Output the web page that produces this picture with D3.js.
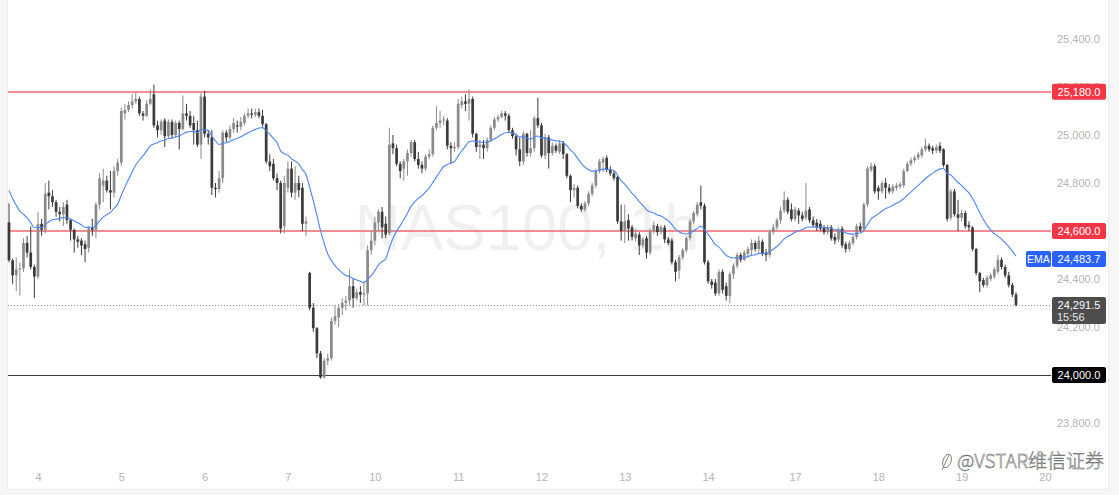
<!DOCTYPE html>
<html><head><meta charset="utf-8">
<script src="https://cdn.jsdelivr.net/npm/d3@7"></script>
<style>
html,body{margin:0;padding:0;background:#f6f6f6;}
svg{display:block;font-family:"Liberation Sans",Arial,sans-serif;}
</style></head><body>
<svg id="chart" width="1119" height="495"></svg>
<script>
// ---- DATA (NAS100, 1h) ----
const opens = [
24636,24478,24415,24440,24445,24550,24510,24450,24410,24630,
24605,24760,24745,24720,24680,24670,24710,24645,24605,24565,
24560,24545,24530,24615,24605,24710,24790,24810,24770,24760,
24850,24885,25090,25105,25125,25140,25150,25090,25080,25130,
25170,25040,25020,25060,24995,25055,25000,25050,25025,25090,
25080,25050,25020,24960,25160,25005,24990,24780,24775,24820,
25010,24990,25025,25040,25035,25050,25080,25090,25085,25095,
25080,25045,24890,24880,24820,24800,24620,24780,24860,24760,
24800,24780,24630,24425,24280,24195,24090,23990,24060,24070,
24225,24240,24280,24300,24310,24370,24320,24345,24335,24340,
24520,24560,24635,24680,24630,24590,24965,24945,24880,24860,
24890,24925,24970,24900,24875,24860,24910,24920,25030,25050,
25060,25060,24955,24945,24950,25125,25140,25130,25150,25005,
24950,24960,24945,24980,25030,25065,25075,25090,25080,25020,
24995,24940,24890,25005,24925,24945,25070,25040,24915,24990,
24925,24955,24930,24965,24920,24830,24770,24780,24705,24690,
24715,24755,24790,24850,24885,24905,24855,24840,24825,24640,
24600,24645,24615,24570,24585,24540,24570,24510,24600,24620,
24595,24615,24565,24560,24470,24435,24490,24520,24570,24640,
24670,24720,24705,24470,24390,24385,24340,24430,24370,24330,
24420,24455,24500,24480,24505,24520,24550,24525,24555,24510,
24500,24595,24615,24645,24685,24730,24690,24650,24685,24665,
24655,24690,24645,24635,24630,24615,24595,24615,24575,24565,
24610,24545,24525,24550,24575,24620,24610,24710,24855,24870,
24780,24765,24800,24780,24765,24780,24785,24790,24850,24880,
24895,24905,24915,24940,24955,24945,24935,24955,24940,24875,
24655,24765,24670,24655,24675,24625,24615,24525,24425,24395,
24375,24400,24410,24430,24480,24450,24415,24375,24335];
const highs = [
24715,24485,24490,24470,24570,24580,24620,24460,24680,24650,
24800,24810,24770,24730,24700,24720,24730,24650,24610,24580,
24570,24560,24620,24650,24720,24840,24860,24830,24850,24870,
24900,25115,25130,25140,25170,25175,25160,25100,25145,25190,
25210,25060,25065,25070,25065,25065,25060,25060,25165,25130,
25100,25080,25060,25175,25185,25020,25020,24800,24850,25020,
25020,25040,25070,25060,25075,25090,25110,25110,25110,25110,
25105,25050,24920,24900,24840,24810,24830,24890,24890,24870,
24830,24800,24660,24430,24300,24200,24100,24070,24090,24240,
24290,24295,24320,24330,24440,24400,24360,24370,24390,24540,
24600,24660,24690,24700,24660,25030,25000,24960,24890,24900,
24940,24980,24980,24930,24890,24920,24940,25040,25120,25100,
25080,25070,24970,24970,25150,25160,25170,25190,25160,25010,
24980,24980,24990,25040,25075,25085,25100,25100,25090,25030,
25005,24990,25015,25010,25020,25080,25155,25050,25005,25000,
24970,24965,24980,24975,24925,24835,24795,24790,24715,24725,
24765,24800,24860,24900,24910,24915,24870,24850,24830,24710,
24710,24670,24625,24610,24595,24575,24580,24610,24640,24630,
24625,24625,24575,24570,24480,24500,24530,24580,24650,24685,
24720,24790,24715,24480,24400,24400,24440,24440,24385,24430,
24465,24510,24510,24520,24535,24565,24560,24580,24565,24525,
24605,24630,24655,24700,24765,24740,24715,24700,24695,24680,
24800,24700,24660,24650,24645,24625,24625,24625,24590,24615,
24620,24555,24560,24585,24630,24635,24720,24870,24885,24880,
24790,24810,24820,24795,24795,24800,24805,24860,24890,24905,
24915,24930,24950,24985,24965,24955,24960,24970,24945,24880,
24775,24775,24730,24690,24685,24640,24620,24530,24430,24405,
24415,24425,24450,24500,24490,24460,24430,24385,24345];
const lows = [
24470,24380,24350,24330,24430,24490,24440,24320,24400,24580,
24590,24690,24700,24660,24640,24620,24630,24560,24510,24530,
24500,24470,24510,24580,24570,24690,24720,24760,24690,24740,
24830,24870,25065,25095,25110,25130,25080,25060,25075,25125,
25030,24990,25000,24950,24985,24985,24990,24940,25020,25060,
25030,24960,24950,24900,24990,24960,24750,24740,24760,24800,
24970,24980,25010,25010,25020,25040,25070,25070,25075,25070,
25035,24880,24850,24810,24770,24590,24590,24760,24740,24730,
24740,24600,24580,24270,24180,24070,23985,23985,24040,24060,
24210,24200,24250,24270,24290,24280,24310,24300,24290,24290,
24500,24540,24600,24570,24570,24580,24920,24870,24820,24810,
24830,24910,24890,24860,24840,24850,24900,24910,25020,25030,
25040,24940,24880,24930,24940,25110,25100,25060,24990,24930,
24900,24900,24930,24970,25020,25055,25070,25060,25010,24985,
24915,24870,24875,24910,24910,24930,25030,24905,24900,24860,
24915,24925,24920,24900,24820,24720,24740,24695,24680,24680,
24705,24745,24780,24840,24845,24845,24830,24810,24630,24560,
24550,24560,24560,24555,24500,24530,24485,24500,24590,24580,
24585,24550,24540,24460,24390,24400,24480,24510,24560,24630,
24660,24690,24460,24380,24360,24330,24330,24340,24310,24300,
24400,24445,24470,24475,24495,24500,24515,24510,24495,24475,
24490,24585,24605,24630,24675,24670,24640,24640,24630,24640,
24645,24635,24615,24600,24600,24585,24585,24560,24545,24555,
24530,24510,24515,24540,24565,24595,24600,24700,24845,24755,
24730,24755,24735,24755,24755,24770,24775,24780,24845,24870,
24885,24895,24905,24930,24930,24920,24925,24925,24865,24640,
24645,24660,24600,24640,24610,24600,24515,24415,24345,24365,
24365,24390,24400,24420,24440,24405,24365,24325,24285];
const closes = [
24478,24415,24440,24445,24550,24510,24450,24410,24630,24605,
24755,24745,24720,24680,24670,24700,24645,24605,24565,24555,
24540,24525,24610,24605,24710,24820,24810,24770,24760,24850,
24885,25100,25105,25125,25140,25150,25090,25080,25130,25150,
25040,25020,25055,24995,25055,25000,25050,25025,25090,25080,
25040,25020,24960,25160,25005,24990,24780,24775,24820,25010,
24990,25025,25050,25035,25055,25080,25090,25085,25095,25080,
25045,24890,24870,24820,24800,24610,24800,24860,24760,24800,
24770,24630,24640,24280,24195,24090,23990,24060,24070,24225,
24245,24280,24300,24310,24370,24320,24345,24335,24340,24520,
24560,24635,24680,24615,24585,24960,24945,24880,24850,24890,
24925,24970,24900,24875,24860,24910,24920,25030,25050,25060,
25065,24955,24945,24950,25130,25140,25130,25150,25005,24950,
24960,24945,24980,25030,25065,25075,25090,25080,25020,24995,
24940,24890,25005,24925,24945,25070,25040,24915,24990,24925,
24955,24935,24965,24920,24830,24770,24780,24705,24690,24715,
24755,24790,24850,24890,24900,24855,24840,24820,24640,24600,
24640,24610,24575,24590,24540,24565,24510,24600,24625,24595,
24615,24565,24550,24470,24430,24490,24520,24570,24640,24675,
24710,24705,24470,24390,24375,24340,24430,24355,24330,24420,
24455,24500,24480,24510,24525,24550,24525,24560,24505,24500,
24595,24615,24645,24685,24730,24680,24650,24690,24665,24650,
24685,24645,24625,24615,24610,24595,24615,24570,24560,24605,
24540,24525,24550,24575,24620,24605,24710,24860,24870,24765,
24765,24800,24780,24765,24785,24790,24795,24850,24880,24895,
24905,24920,24940,24955,24940,24935,24950,24935,24875,24650,
24765,24670,24655,24675,24620,24615,24525,24425,24390,24375,
24405,24415,24440,24480,24450,24415,24375,24335,24291.5];

const dayLabels = ["4","5","6","7","10","11","12","13","14","17","18","19","20"];
const dayBarIndex = [8,31,54,77,101,124,147,170,193,217,240,263,286];
const priceTicks = [23800,24000,24200,24400,24600,24800,25000,25200,25400];
const resistanceLevels = [25180, 24600];
const supportLevel = 24000;
const lastPrice = 24291.5;
const countdown = "15:56";
const emaPeriod = 20;
const emaSeed = 24800;
const emaLastValue = 24483.7;
const symbolText = "NAS100, 1h";
const creditText = "@VSTAR维信证券";

// ---- CHART ----
const svg = d3.select("#chart");
const plotLeft = 8, plotRight = 1051;
const x = d3.scaleLinear().domain([0, closes.length - 1]).range([9, 1016]);
const y = d3.scaleLinear().domain([23800, 25400]).range([423, 39]);
const fmt = d3.format(",.1f");
const FONT = "'Liberation Sans',Arial,sans-serif";

// card
svg.append("rect").attr("x", 7.5).attr("y", -2).attr("width", 1101).attr("height", 491)
  .attr("fill", "#ffffff").attr("stroke", "#ececec");

// symbol watermark
svg.append("text").attr("x", 527).attr("y", 250).attr("text-anchor", "middle")
  .attr("font-size", 64).attr("font-family", FONT)
  .attr("fill", "#000").attr("fill-opacity", 0.06).text(symbolText);

// horizontal levels
const levelG = svg.append("g");
levelG.selectAll("line.res").data(resistanceLevels).join("line").attr("class", "res")
  .attr("x1", plotLeft).attr("x2", plotRight)
  .attr("y1", d => Math.round(y(d))).attr("y2", d => Math.round(y(d)))
  .attr("stroke", "#f06470").attr("stroke-width", 1.4);
levelG.append("line").attr("x1", plotLeft).attr("x2", plotRight)
  .attr("y1", Math.round(y(supportLevel)) + 0.5).attr("y2", Math.round(y(supportLevel)) + 0.5)
  .attr("stroke", "#3a3a3a").attr("stroke-width", 1.2);
levelG.append("line").attr("x1", plotLeft).attr("x2", plotRight)
  .attr("y1", Math.round(y(lastPrice)) + 0.5).attr("y2", Math.round(y(lastPrice)) + 0.5)
  .attr("stroke", "#8a8a8a").attr("stroke-dasharray", "1 2").attr("stroke-width", 1);

// candles
const candles = closes.map((c, i) => ({ i, o: opens[i], h: highs[i], l: lows[i], c }));
const upCol = "#8a8a8a", dnCol = "#3b3b3b";
const cg = svg.append("g");
cg.selectAll("line.wick").data(candles).join("line").attr("class", "wick")
  .attr("x1", d => x(d.i)).attr("x2", d => x(d.i))
  .attr("y1", d => y(Math.max(d.h, d.o, d.c))).attr("y2", d => y(Math.min(d.l, d.o, d.c)))
  .attr("stroke", d => d.c >= d.o ? upCol : dnCol).attr("stroke-width", 1);
const bw = 2.7;
cg.selectAll("rect.body").data(candles).join("rect").attr("class", "body")
  .attr("x", d => x(d.i) - bw / 2).attr("width", bw)
  .attr("y", d => y(Math.max(d.o, d.c)))
  .attr("height", d => Math.max(1, Math.abs(y(d.o) - y(d.c))))
  .attr("fill", d => d.c >= d.o ? upCol : dnCol);

// EMA
const alpha = 2 / (emaPeriod + 1);
let prev = emaSeed;
const ema = closes.map((c, i) => { prev = alpha * c + (1 - alpha) * prev; return { i, v: prev }; });
svg.append("path").datum(ema)
  .attr("d", d3.line().x(d => x(d.i)).y(d => y(d.v)).curve(d3.curveMonotoneX))
  .attr("fill", "none").attr("stroke", "#4d84f5").attr("stroke-width", 1.1);

// right price axis
const yAxis = svg.append("g").attr("transform", "translate(1053,0)")
  .call(d3.axisRight(y).tickValues(priceTicks).tickFormat(fmt).tickSize(0).tickPadding(4));
yAxis.select(".domain").remove();
yAxis.selectAll("text").attr("fill", "#b3b3b3").attr("font-size", 11).attr("font-family", FONT);

// bottom time axis
const xAxis = svg.append("g").attr("transform", "translate(0,469)")
  .call(d3.axisBottom(x).tickValues(dayBarIndex).tickFormat((d, k) => dayLabels[k]).tickSize(0).tickPadding(4));
xAxis.select(".domain").remove();
xAxis.selectAll("text").attr("fill", "#b3b3b3").attr("font-size", 11).attr("font-family", FONT);

// price tags
function tag(v, label, fill, h) {
  const hh = h || 16;
  const yc = y(v);
  svg.append("rect").attr("x", 1052).attr("y", yc - 8).attr("width", 54).attr("height", hh)
    .attr("rx", 2).attr("fill", fill);
  svg.append("text").attr("x", 1079).attr("y", yc + 4).attr("text-anchor", "middle")
    .attr("fill", "#fff").attr("font-size", 11).attr("font-family", FONT).text(label);
}
resistanceLevels.forEach(v => tag(v, fmt(v), "#f23645"));
tag(supportLevel, fmt(supportLevel), "#000000");
tag(emaLastValue, fmt(emaLastValue), "#2962ff");
svg.append("rect").attr("x", 1026).attr("y", y(emaLastValue) - 8).attr("width", 25).attr("height", 16)
  .attr("rx", 2).attr("fill", "#2962ff");
svg.append("text").attr("x", 1038.5).attr("y", y(emaLastValue) + 4).attr("text-anchor", "middle")
  .attr("fill", "#fff").attr("font-size", 10.5).attr("font-family", FONT).text("EMA");
tag(lastPrice, fmt(lastPrice), "#4d4d4d", 27);
svg.append("text").attr("x", 1057).attr("y", y(lastPrice) + 16).attr("fill", "#e8e8e8")
  .attr("font-size", 11).attr("font-family", FONT).text(countdown);

// credit watermark
const cw = svg.append("g");
cw.append("ellipse").attr("cx", 947).attr("cy", 461).attr("rx", 4).attr("ry", 7)
  .attr("transform", "rotate(20,947,461)").attr("fill", "none").attr("stroke", "#666").attr("stroke-width", 0.8);
cw.append("line").attr("x1", 942).attr("y1", 470).attr("x2", 949).attr("y2", 455)
  .attr("stroke", "#666").attr("stroke-width", 0.8);
cw.append("text").attr("x", 957).attr("y", 468).attr("font-size", 19).attr("font-weight", 300)
  .attr("font-family", "'Noto Sans CJK SC','Liberation Sans',sans-serif")
  .attr("fill", "#ffffff").attr("stroke", "#5a5a5a").attr("stroke-width", 0.5).text(creditText);
</script>
</body></html>
